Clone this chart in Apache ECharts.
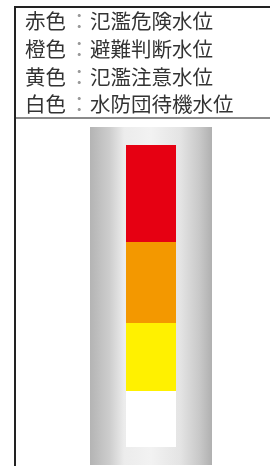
<!DOCTYPE html>
<html lang="ja">
  <head>
    <meta charset="UTF-8" />
    <title>水位の色</title>
    <script src="https://cdn.jsdelivr.net/npm/echarts@6.0.0/dist/echarts.min.js"></script>
    <style>
      html, body { margin: 0; padding: 0; background: #fff; }
      #chart { width: 270px; height: 466px; }
    </style>
  </head>
  <body>
    <div id="chart"></div>
    <script>
      // 上から順に表示する凡例
      const colorNames = ["赤色", "橙色", "黄色", "白色"];
      const levelNames = ["氾濫危険水位", "避難判断水位", "氾濫注意水位", "水防団待機水位"];

      // 棒の各区間（下から：白・黄・橙・赤）
      const category = ["水位"];
      const baseValue = [18];
      const whiteValue = [56];
      const yellowValue = [68];
      const orangeValue = [81];
      const redValue = [97];
      const tubeValue = [338];

      const chart = echarts.init(document.getElementById("chart"));
      const font = '20.5px "Noto Sans CJK JP", "Noto Sans", sans-serif';

      const texts = [];
      colorNames.forEach((name, i) => {
        const top = 11 + i * 27.8;
        texts.push({ type: "text", left: 25, top: top, style: { text: name, font: font, fill: "#333" } });
        texts.push({ type: "text", left: 69, top: top, style: { text: "：", font: font, fill: "#999" } });
        texts.push({ type: "text", left: 90, top: top, style: { text: levelNames[i], font: font, fill: "#333" } });
      });

      const option = {
        animation: false,
        grid: { left: 90, right: 58, top: 127, bottom: 1 },
        xAxis: [
          { type: "category", data: category, show: false },
          { type: "category", data: category, show: false },
        ],
        yAxis: { type: "value", min: 0, max: 338, show: false },
        series: [
          {
            type: "bar", xAxisIndex: 0, data: tubeValue, barWidth: 122, z: 1,
            itemStyle: {
              color: new echarts.graphic.LinearGradient(0, 0, 1, 0, [
                { offset: 0, color: "#b4b4b4" },
                { offset: 0.16, color: "#cdcdcd" },
                { offset: 0.28, color: "#ececec" },
                { offset: 0.5, color: "#f2f2f2" },
                { offset: 0.74, color: "#e4e4e4" },
                { offset: 0.9, color: "#c8c8c8" },
                { offset: 1, color: "#b0b0b0" },
              ]),
            },
          },
          { type: "bar", xAxisIndex: 1, stack: "lv", data: baseValue, barWidth: 50, z: 2, itemStyle: { color: "transparent" } },
          { type: "bar", xAxisIndex: 1, stack: "lv", data: whiteValue, barWidth: 50, z: 2, itemStyle: { color: "#ffffff" } },
          { type: "bar", xAxisIndex: 1, stack: "lv", data: yellowValue, barWidth: 50, z: 2, itemStyle: { color: "#fff100" } },
          { type: "bar", xAxisIndex: 1, stack: "lv", data: orangeValue, barWidth: 50, z: 2, itemStyle: { color: "#f39800" } },
          { type: "bar", xAxisIndex: 1, stack: "lv", data: redValue, barWidth: 50, z: 2, itemStyle: { color: "#e60012" } },
        ],
        graphic: [
          { type: "line", shape: { x1: 15, y1: 7, x2: 270, y2: 7 }, style: { stroke: "#222", lineWidth: 2 } },
          { type: "line", shape: { x1: 15, y1: 6, x2: 15, y2: 466 }, style: { stroke: "#222", lineWidth: 2 } },
          { type: "line", shape: { x1: 16, y1: 118, x2: 270, y2: 118 }, style: { stroke: "#8a8a8a", lineWidth: 2 } },
        ].concat(texts),
      };
      chart.setOption(option);
    </script>
  </body>
</html>
